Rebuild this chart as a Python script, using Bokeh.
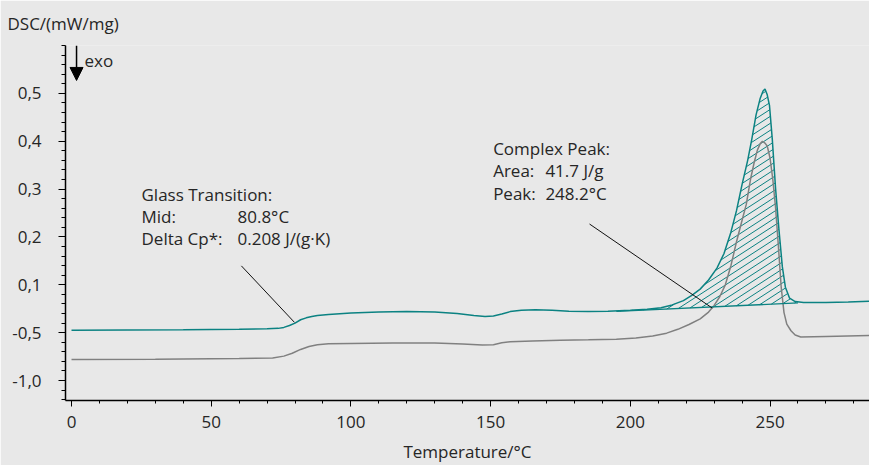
from bokeh.plotting import figure
from bokeh.models import Range1d, FixedTicker, Label, Arrow, NormalHead
from bokeh.embed import file_html
from bokeh.resources import INLINE
import numpy as np

# DSC sample run (teal) with integrated complex peak
temp_sample = [0, 20, 40, 60, 70, 74, 76, 78, 80, 82, 84, 86, 88, 92, 100, 110, 120, 130,
               138, 144, 148, 151, 154, 157, 161, 166, 172, 178, 185, 192, 200, 206, 211,
               215, 219, 222, 225, 228, 231, 233.5, 236, 238, 240, 242, 243.5, 245, 246.5,
               247.5, 248.2, 249, 249.8, 250.8, 252, 253.2, 254.4, 255.5, 257, 259, 262,
               270, 278, 286]
dsc_sample = [0.005, 0.0055, 0.006, 0.007, 0.008, 0.009, 0.011, 0.015, 0.020, 0.027, 0.031,
              0.034, 0.036, 0.038, 0.041, 0.043, 0.044, 0.043, 0.040, 0.036, 0.034, 0.035,
              0.039, 0.044, 0.047, 0.048, 0.047, 0.045, 0.044, 0.045, 0.047, 0.049, 0.052,
              0.058, 0.067, 0.078, 0.091, 0.110, 0.135, 0.165, 0.210, 0.255, 0.310, 0.360,
              0.405, 0.455, 0.490, 0.505, 0.509, 0.497, 0.475, 0.405, 0.300, 0.215, 0.138,
              0.095, 0.072, 0.065, 0.063, 0.063, 0.064, 0.066]

# second heating / reference run (gray)
temp_ref = [0, 30, 60, 72, 76, 79, 82, 85, 88, 92, 100, 115, 130, 140, 147, 151, 154, 157,
            165, 175, 185, 195, 202, 208, 213, 217, 221, 225, 228, 230, 232, 234, 236, 238,
            240, 241.5, 243, 244.3, 245.5, 246.5, 247.3, 248.2, 249, 250, 251, 252, 253,
            254, 255, 256, 257.5, 259, 261, 270, 286]
dsc_ref = [-0.056, -0.0555, -0.054, -0.053, -0.049, -0.043, -0.035, -0.029, -0.025, -0.023,
           -0.0225, -0.0215, -0.0215, -0.0235, -0.0255, -0.025, -0.021, -0.019, -0.0175,
           -0.016, -0.015, -0.0135, -0.011, -0.007, -0.001, 0.007, 0.017, 0.029, 0.043,
           0.057, 0.075, 0.100, 0.140, 0.190, 0.235, 0.268, 0.320, 0.355, 0.382, 0.395,
           0.400, 0.396, 0.390, 0.365, 0.320, 0.260, 0.180, 0.095, 0.042, 0.018, 0.004,
           -0.005, -0.009, -0.008, -0.006]

# integration limits and straight baseline of the complex peak
peak_limits = [195, 260]
peak_baseline = [0.0445, 0.0622]

# axis ticks
x_ticks = [0, 50, 100, 150, 200, 250]
x_minor = list(range(0, 290, 10))
y_ticks = [0.5, 0.4, 0.3, 0.2, 0.1, 0.0, -0.1]
y_labels = ["0,5", "0,4", "0,3", "0,2", "0,1", "-0,5", "-1,0"]

TEAL = "#0b8282"
GRAY = "#808080"
TEXT = "#262626"
BG = "#e8e8e8"
FONT = "Open Sans"
FS = "17px"

p = figure(width=869, height=465, output_backend="svg", toolbar_location=None,
           x_range=Range1d(-2.15, 285.6), y_range=Range1d(-0.1417, 0.6),
           min_border_left=65, min_border_right=0, min_border_top=45, min_border_bottom=64)
p.background_fill_color = BG
p.border_fill_color = BG
p.outline_line_color = None
p.xgrid.visible = False
p.ygrid.visible = False

# y quantity shown horizontally at the top left
p.title.text = "DSC/(mW/mg)"
p.title.align = "left"
p.title.vertical_align = "top"
p.title.offset = -58
p.title.text_font = FONT
p.title.text_font_size = FS
p.title.text_font_style = "normal"
p.title.text_color = TEXT
p.title.standoff = 18

# axes
for ax in (p.xaxis[0], p.yaxis[0]):
    ax.axis_line_color = "black"
    ax.axis_line_width = 1.5
    ax.major_tick_line_color = "black"
    ax.minor_tick_line_color = "black"
    ax.major_tick_in = 0
    ax.minor_tick_in = 0
    ax.major_label_text_font = FONT
    ax.major_label_text_font_size = FS
    ax.major_label_text_color = TEXT

p.xaxis.ticker = FixedTicker(ticks=x_ticks, minor_ticks=x_minor)
p.xaxis.major_tick_out = 6
p.xaxis.minor_tick_out = 3
p.xaxis.major_label_standoff = 9
p.xaxis.axis_label = "Temperature/°C"
p.xaxis.axis_label_text_font = FONT
p.xaxis.axis_label_text_font_size = FS
p.xaxis.axis_label_text_font_style = "normal"
p.xaxis.axis_label_text_color = TEXT
p.xaxis.axis_label_standoff = 9

y_minor = [round(-0.14 + 0.02 * i, 2) for i in range(38)]
p.yaxis.ticker = FixedTicker(ticks=y_ticks, minor_ticks=y_minor)
p.yaxis.major_label_overrides = dict(zip(y_ticks, y_labels))
p.yaxis.major_tick_out = 7
p.yaxis.minor_tick_out = 4
p.yaxis.major_label_standoff = 17

# hatched peak area: shallow diagonal strokes between the baseline and the curve
PX_PER_DEG = 2.794
PX_PER_UNIT = 480.0
slope = np.tan(np.radians(33)) * PX_PER_DEG / PX_PER_UNIT
gap = 7.0 / PX_PER_UNIT
t_fine = np.arange(peak_limits[0], peak_limits[1] + 0.001, 0.05)
curve_fine = np.interp(t_fine, temp_sample, dsc_sample)
base_fine = np.interp(t_fine, peak_limits, peak_baseline)
hx, hy = [], []
for c in np.arange(-1.2, 0.6, gap):
    line_v = c + slope * (t_fine - peak_limits[0])
    inside = (line_v >= base_fine) & (line_v <= curve_fine)
    if not inside.any():
        continue
    idx = np.where(inside)[0]
    runs = np.split(idx, np.where(np.diff(idx) > 1)[0] + 1)
    for r in runs:
        if len(r) < 2:
            continue
        hx.append([t_fine[r[0]], t_fine[r[-1]]])
        hy.append([line_v[r[0]], line_v[r[-1]]])
p.multi_line(hx, hy, line_color=TEAL, line_width=1)

p.line(temp_ref, dsc_ref, line_color=GRAY, line_width=1.5)
p.line(temp_sample, dsc_sample, line_color=TEAL, line_width=1.5)
p.line(peak_limits, peak_baseline, line_color=TEAL, line_width=1.3)

# leader lines for the annotations
p.line([60.8, 79.8], [0.1396, 0.0215], line_color="#111111", line_width=1)
p.line([185.4, 229.3], [0.227, 0.0515], line_color="#111111", line_width=1)


def add_text(x, y, text):
    p.add_layout(Label(x=x, y=y, text=text, text_font=FONT, text_font_size=FS,
                       text_color=TEXT, text_baseline="middle", text_align="left"))


add_text(4.65, 0.569, "exo")

add_text(25.05, 0.2894, "Glass Transition:")
add_text(25.05, 0.2436, "Mid:")
add_text(25.05, 0.1963, "Delta Cp*:")
add_text(59.4, 0.2436, "80.8°C")
add_text(59.4, 0.1963, "0.208 J/(g·K)")

add_text(150.9, 0.3838, "Complex Peak:")
add_text(150.9, 0.338, "Area:")
add_text(150.9, 0.2915, "Peak:")
add_text(169.6, 0.338, "41.7 J/g")
add_text(169.6, 0.2915, "248.2°C")

# exo direction arrow
p.add_layout(Arrow(end=NormalHead(size=13, fill_color="black", line_color="black"),
                   x_start=1.8, y_start=0.6, x_end=1.8, y_end=0.527,
                   line_color="black", line_width=1.5))

open("out.html", "w").write(file_html(p, INLINE))
